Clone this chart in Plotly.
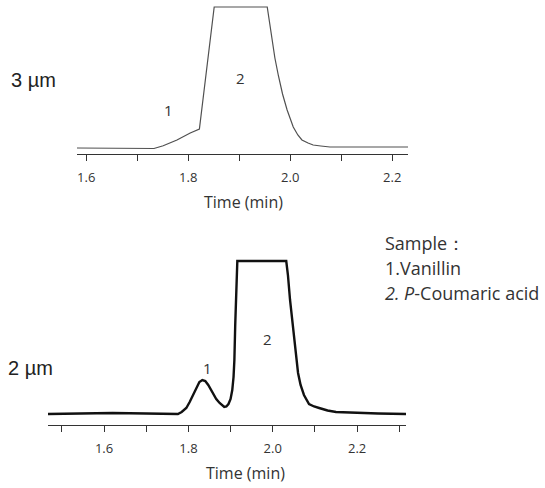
import plotly.graph_objects as go

# ---- data ----
top_time = [1.582, 1.65, 1.70, 1.733, 1.751, 1.778, 1.804, 1.822, 1.851, 1.955,
            1.960, 1.965, 1.970, 1.977, 1.985, 1.994, 2.006, 2.015, 2.023, 2.035,
            2.045, 2.06, 2.078, 2.15, 2.231]
top_signal = [6, 5.5, 5, 5.5, 8.3, 14, 21, 25, 147, 147,
              130, 112, 96, 78, 60, 44, 27, 19, 14, 11,
              9, 8, 7, 7, 7]

bottom_time = [1.467, 1.55, 1.62, 1.70, 1.775, 1.784, 1.795, 1.803, 1.811, 1.819,
               1.826, 1.833, 1.840, 1.847, 1.857, 1.866, 1.874, 1.880, 1.885, 1.890,
               1.895, 1.900, 1.904, 1.907, 1.909, 1.911, 1.913, 1.916, 2.032, 2.036,
               2.041, 2.047, 2.053, 2.060, 2.066, 2.074, 2.086, 2.098, 2.110, 2.130,
               2.150, 2.197, 2.250, 2.316]
bottom_signal = [11, 11.5, 12, 11.5, 11, 13, 17, 23, 30, 38,
                 43, 45, 44, 40, 32, 26, 22, 19.5, 18, 18.5,
                 21, 26, 35, 48, 65, 100, 140, 164, 164, 150,
                 125, 100, 75, 52, 40, 30, 21, 18.5, 17, 14.5,
                 13, 12, 11.5, 11]

top_tickvals = [1.6, 1.8, 2.0, 2.2]
top_ticktext = ["1.6", "1.8", "2.0", "2.2"]
bottom_tickvals = [1.6, 1.8, 2.0, 2.2]
bottom_ticktext = ["1.6", "1.8", "2.0", "2.2"]

top_label = "3 µm"
bottom_label = "2 µm"
axis_title = "Time (min)"
sample_lines = ["Sample：", "1.Vanillin", "<i>2. P</i>-Coumaric acid"]

W, H = 545, 488

def px(x):
    return x / W

def py(y):
    return (H - y) / H

fig = go.Figure()
fig.add_trace(go.Scatter(x=top_time, y=top_signal, mode="lines",
                         line=dict(color="#505050", width=1.2),
                         xaxis="x", yaxis="y", showlegend=False, hoverinfo="skip"))
fig.add_trace(go.Scatter(x=bottom_time, y=bottom_signal, mode="lines",
                         line=dict(color="#111111", width=2.4),
                         xaxis="x2", yaxis="y2", showlegend=False, hoverinfo="skip"))

tickfont = dict(family="Open Sans, sans-serif", size=13, color="#333333")

def xaxis_cfg(domain, rng, tv, tt, anchor):
    return dict(domain=domain, range=rng, anchor=anchor,
                showline=True, linecolor="#333333", linewidth=1.3,
                showgrid=False, zeroline=False,
                tickvals=tv, ticktext=tt, ticks="outside", ticklen=6,
                tickcolor="#333333", tickwidth=1, tickfont=tickfont,
                ticklabelstandoff=5,
                minor=dict(ticks="outside", dtick=0.1, tick0=1.5, ticklen=6,
                           tickcolor="#333333", tickwidth=1))

def yaxis_cfg(domain, rng, anchor):
    return dict(domain=domain, range=rng, anchor=anchor, visible=False,
                showgrid=False, zeroline=False)

fig.update_layout(
    width=W, height=H,
    margin=dict(l=0, r=0, t=0, b=0),
    paper_bgcolor="white", plot_bgcolor="white",
    xaxis=xaxis_cfg([px(77), px(408)], [1.582, 2.231], top_tickvals, top_ticktext, "y"),
    yaxis=yaxis_cfg([py(154), py(4)], [0, 150], "x"),
    xaxis2=xaxis_cfg([px(48), px(406)], [1.467, 2.316], bottom_tickvals, bottom_ticktext, "y2"),
    yaxis2=yaxis_cfg([py(425), py(255)], [0, 170], "x2"),
)

ann_font = dict(family="Open Sans, sans-serif", size=16, color="#333333")
num_font = dict(family="Open Sans, sans-serif", size=15, color="#333333")
sample_font = dict(family="Open Sans, sans-serif", size=18, color="#333333")
big_font = dict(family="Liberation Sans, Arial, sans-serif", size=20, color="#222222")

annotations = [
    dict(x=px(9), y=py(80), text=top_label, font=big_font, xanchor="left"),
    dict(x=px(6), y=py(368), text=bottom_label, font=big_font, xanchor="left"),
    dict(x=px(243), y=py(202), text=axis_title, font=ann_font, xanchor="center"),
    dict(x=px(245), y=py(473), text=axis_title, font=ann_font, xanchor="center"),
    dict(x=px(168), y=py(110), text="1", font=num_font, xanchor="center"),
    dict(x=px(240), y=py(78), text="2", font=num_font, xanchor="center"),
    dict(x=px(207), y=py(368), text="1", font=num_font, xanchor="center"),
    dict(x=px(267), y=py(339), text="2", font=num_font, xanchor="center"),
]
for i, s in enumerate(sample_lines):
    annotations.append(dict(x=px(383), y=py(243 + 25 * i), text=s, font=sample_font,
                            xanchor="left"))
for a in annotations:
    a.update(xref="paper", yref="paper", yanchor="middle", showarrow=False)
fig.update_layout(annotations=annotations)

fig.write_html("out.html", config={"displayModeBar": False},
               post_script="document.body.style.margin='0';document.body.style.overflow='hidden';")
